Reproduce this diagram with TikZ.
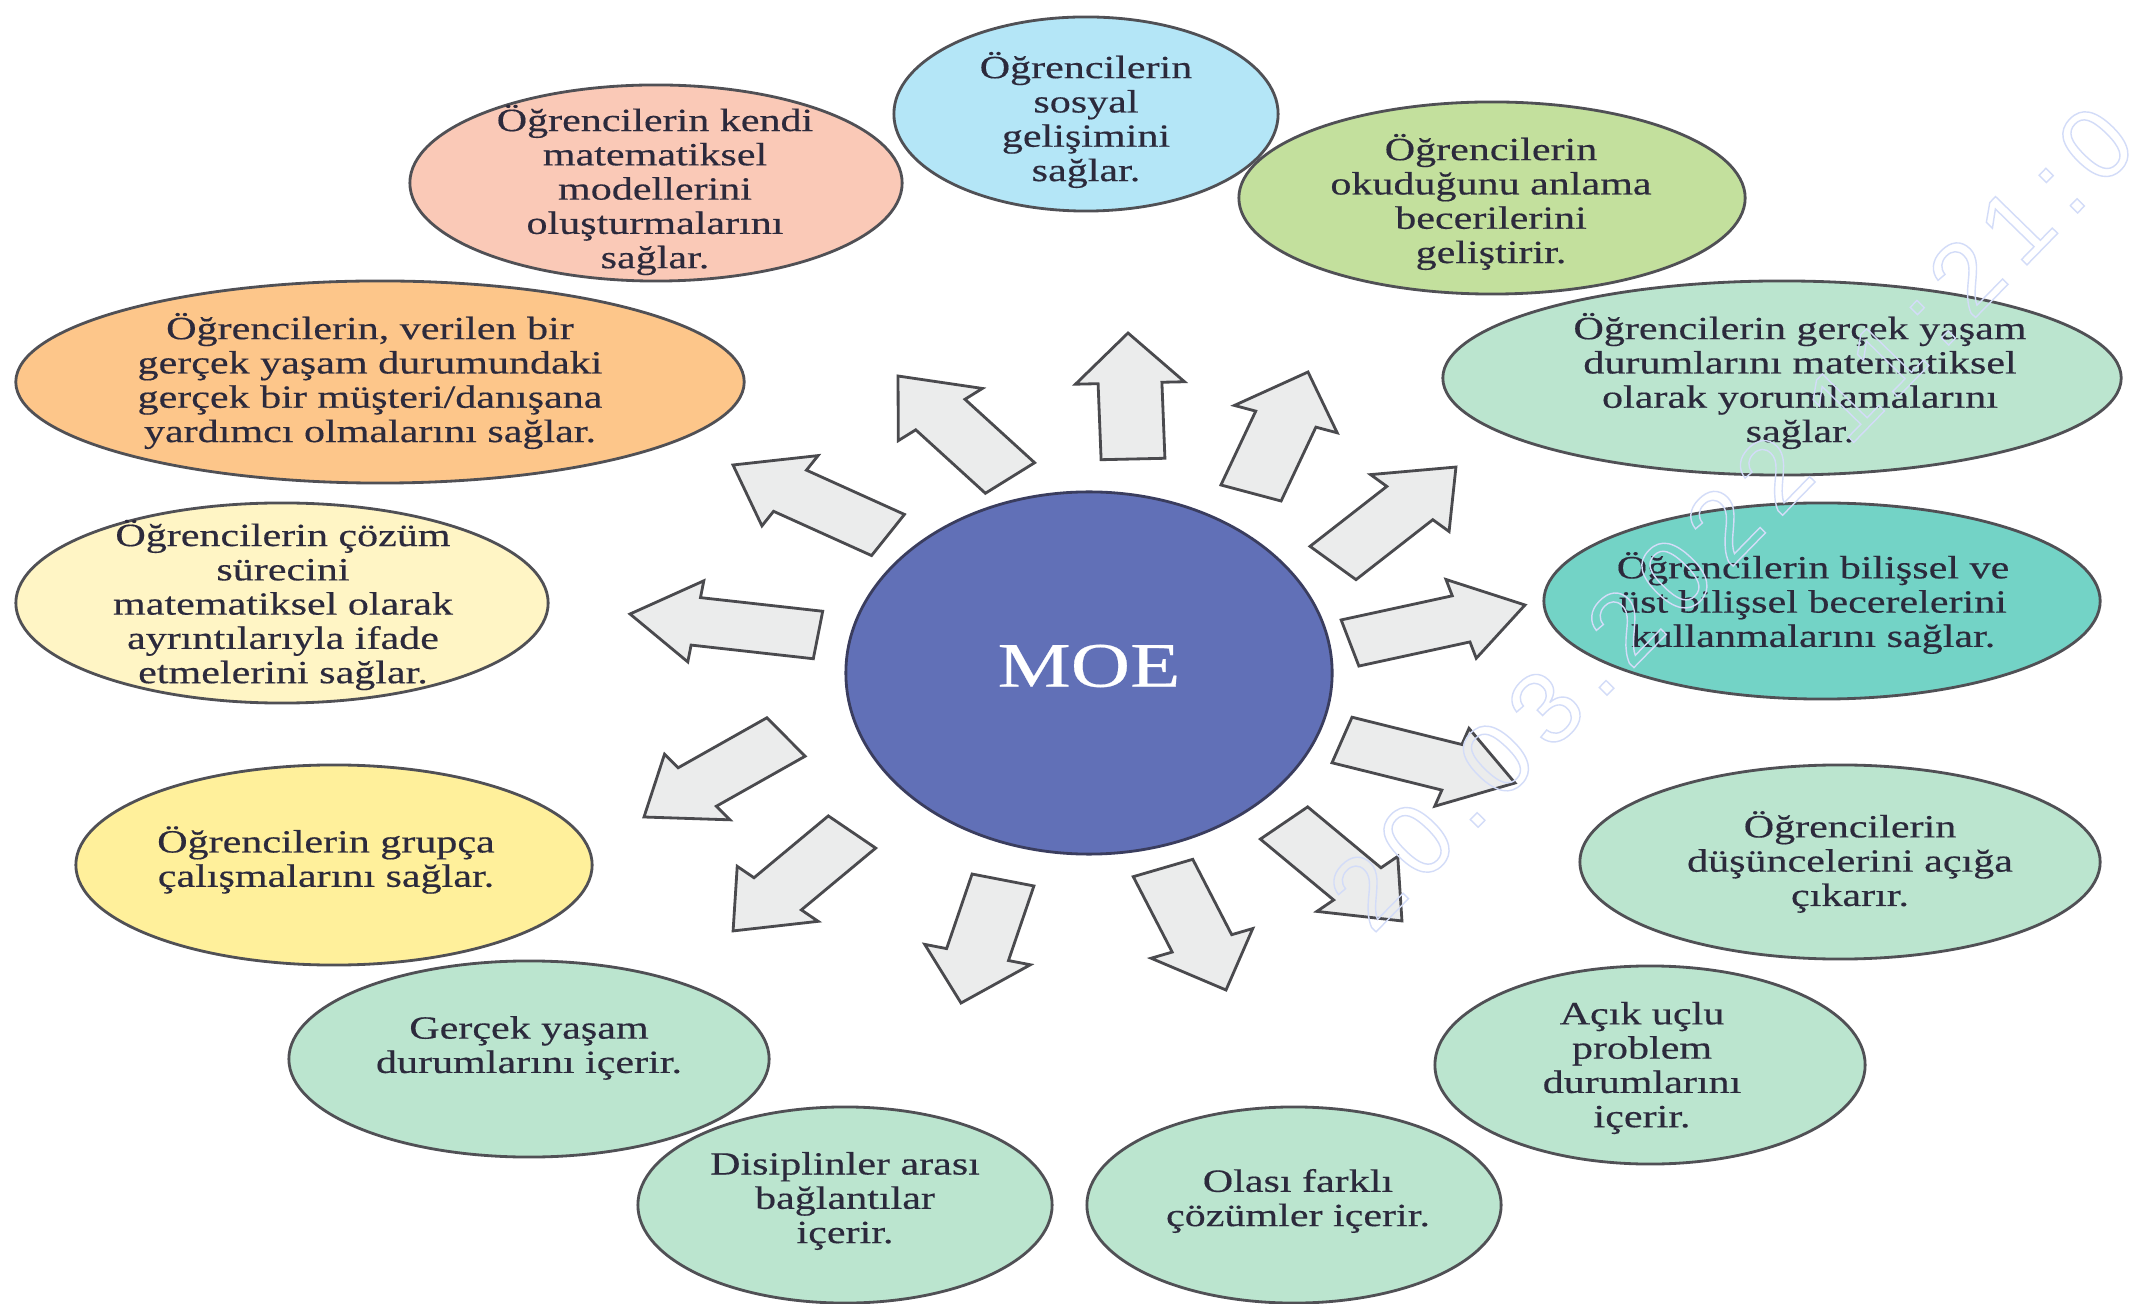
\documentclass[tikz,border=0pt]{standalone}
\usepackage{fontspec}
\setmainfont{Liberation Serif}[FakeStretch=1.3, FakeBold=0.4]
\newfontfamily\wmfont{Liberation Sans}[LetterSpace=14]
\usetikzlibrary{shapes.geometric}

\definecolor{edgegray}{HTML}{505055}
\definecolor{inkdark}{HTML}{2C2A3C}
\definecolor{skyfill}{HTML}{B4E6F7}
\definecolor{leaffill}{HTML}{C3E09D}
\definecolor{mintfill}{HTML}{BBE5CF}
\definecolor{tealfill}{HTML}{73D3C6}
\definecolor{sunfill}{HTML}{FFF09B}
\definecolor{creamfill}{HTML}{FFF5C5}
\definecolor{peachfill}{HTML}{FDC68A}
\definecolor{rosefill}{HTML}{FAC9B7}
\definecolor{moefill}{HTML}{6170B7}
\definecolor{moeedge}{HTML}{3A3D5E}
\definecolor{arrowfill}{HTML}{EBECEC}
\definecolor{arrowedge}{HTML}{4A4A4E}
\definecolor{wmcolor}{HTML}{D3DCF8}

\tikzset{
  bubble/.style={ellipse, draw=edgegray, line width=0.8pt, inner sep=0pt},
  msg/.style={align=center, inner sep=0pt, text=inkdark,
              font=\fontsize{9.2}{9.75}\selectfont},
  arrowbox/.style={fill=arrowfill, draw=arrowedge, line width=0.8pt, line join=miter}
}

% block arrow from tail (#1,#2) to tip (#3,#4); the arrow is built
% in a frame that is stretched horizontally afterwards
\newcommand\arrowstretch{1.33}
\newcommand\blockarrow[4]{%
  \pgfmathsetmacro\bdx{(#3-#1)/\arrowstretch}%
  \pgfmathsetmacro\bdy{#4-#2}%
  \pgfmathsetmacro\bang{atan2(-\bdy,\bdx)}%
  \pgfmathsetmacro\blen{veclen(\bdx,\bdy)}%
  \pgfmathsetmacro\bneck{\blen-50}%
  \begin{scope}[xscale=\arrowstretch, shift={({#1/\arrowstretch},#2)}, rotate=\bang]
    \draw[arrowbox] (0,-24) -- (\bneck,-24) -- (\bneck,-41) -- (\blen,0)
      -- (\bneck,41) -- (\bneck,24) -- (0,24) -- cycle;
  \end{scope}}

\begin{document}
\begin{tikzpicture}[x=0.01cm, y=-0.01cm]
  \fill[white] (0,0) rectangle (2131,1304);
  \useasboundingbox (0,0) rectangle (2131,1304);

  % outer bubbles
  \node[bubble, fill=rosefill,  minimum width=4.92cm, minimum height=1.96cm] (e13) at (656,183) {};
  \node[bubble, fill=skyfill,   minimum width=3.84cm, minimum height=1.94cm] (e1) at (1086,114) {};
  \node[bubble, fill=leaffill,  minimum width=5.06cm, minimum height=1.92cm] (e2) at (1492,198) {};
  \node[bubble, fill=mintfill,  minimum width=6.78cm, minimum height=1.94cm] (e3) at (1782,378) {};
  \node[bubble, fill=tealfill,  minimum width=5.56cm, minimum height=1.96cm] (e4) at (1822,601) {};
  \node[bubble, fill=mintfill,  minimum width=5.20cm, minimum height=1.94cm] (e5) at (1840,862) {};
  \node[bubble, fill=mintfill,  minimum width=4.30cm, minimum height=1.98cm] (e6) at (1650,1065) {};
  \node[bubble, fill=mintfill,  minimum width=4.14cm, minimum height=1.96cm] (e7) at (1294,1205) {};
  \node[bubble, fill=mintfill,  minimum width=4.80cm, minimum height=1.96cm] (e9) at (529,1059) {};
  \node[bubble, fill=mintfill,  minimum width=4.14cm, minimum height=1.96cm] (e8) at (845,1205) {};
  \node[bubble, fill=sunfill,   minimum width=5.16cm, minimum height=2.00cm] (e10) at (334,865) {};
  \node[bubble, fill=creamfill, minimum width=5.32cm, minimum height=2.00cm] (e11) at (282,603) {};
  \node[bubble, fill=peachfill, minimum width=7.28cm, minimum height=2.02cm] (e12) at (380,382) {};

  % bubble texts
  \node[msg] (t1) at (1086,120) {Öğrencilerin\\sosyal\\gelişimini\\sağlar.};
  \node[msg] (t2) at (1491,202) {Öğrencilerin\\okuduğunu anlama\\becerilerini\\geliştirir.};
  \node[msg] (t3) at (1800,381) {Öğrencilerin gerçek yaşam\\durumlarını matematiksel\\olarak yorumlamalarını\\sağlar.};
  \node[msg] (t4) at (1813,603) {Öğrencilerin bilişsel ve\\üst bilişsel becerelerini\\kullanmalarını sağlar.};
  \node[msg] (t5) at (1850,862) {Öğrencilerin\\düşüncelerini açığa\\çıkarır.};
  \node[msg] (t6) at (1642,1068) {Açık uçlu\\problem\\durumlarını\\içerir.};
  \node[msg] (t7) at (1298,1201) {Olası farklı\\çözümler içerir.};
  \node[msg] (t8) at (845,1201) {Disiplinler arası\\bağlantılar\\içerir.};
  \node[msg] (t9) at (529,1048) {Gerçek yaşam\\durumlarını içerir.};
  \node[msg] (t10) at (326,860) {Öğrencilerin grupça\\çalışmalarını sağlar.};
  \node[msg] (t11) at (283,605) {Öğrencilerin çözüm\\sürecini\\matematiksel olarak\\ayrıntılarıyla ifade\\etmelerini sağlar.};
  \node[msg] (t12) at (370,381) {Öğrencilerin, verilen bir\\gerçek yaşam durumundaki\\gerçek bir müşteri/danışana\\yardımcı olmalarını sağlar.};
  \node[msg] (t13) at (655,190) {Öğrencilerin kendi\\matematiksel\\modellerini\\oluşturmalarını\\sağlar.};

  % centre
  \node[ellipse, fill=moefill, draw=moeedge, line width=0.8pt, inner sep=0pt,
        minimum width=4.86cm, minimum height=3.62cm] (moe) at (1089,673) {};
  \node[text=white, font=\fontsize{18}{18}\selectfont, inner sep=0pt] (moetext) at (1089,666) {MOE};

  % radiating block arrows
  \blockarrow{1133}{459}{1128}{333}
  \blockarrow{1251}{493}{1308}{372}
  \blockarrow{1333}{563}{1456}{467}
  \blockarrow{1350}{643}{1525}{605}
  \blockarrow{1342}{740}{1515}{783}
  \blockarrow{1284}{823}{1402}{921}
  \blockarrow{1163}{868}{1226}{990}
  \blockarrow{1003}{880}{961}{1003}
  \blockarrow{852}{832}{733}{931}
  \blockarrow{786}{737}{644}{817}
  \blockarrow{818}{635}{630}{614}
  \blockarrow{888}{535}{733}{465}
  \blockarrow{1010}{478}{898}{376}

  % faint date stamp across the right side
  \node[rotate=45.7, anchor=base west, inner sep=0pt, text=wmcolor,
        font=\wmfont\fontsize{29}{29}\selectfont] (stamp) at (1372,936)
        {\special{pdf:literal direct 1 Tr 0.4 w}20.03.2022 11:21:0\special{pdf:literal direct 0 Tr}};
\end{tikzpicture}
\end{document}
